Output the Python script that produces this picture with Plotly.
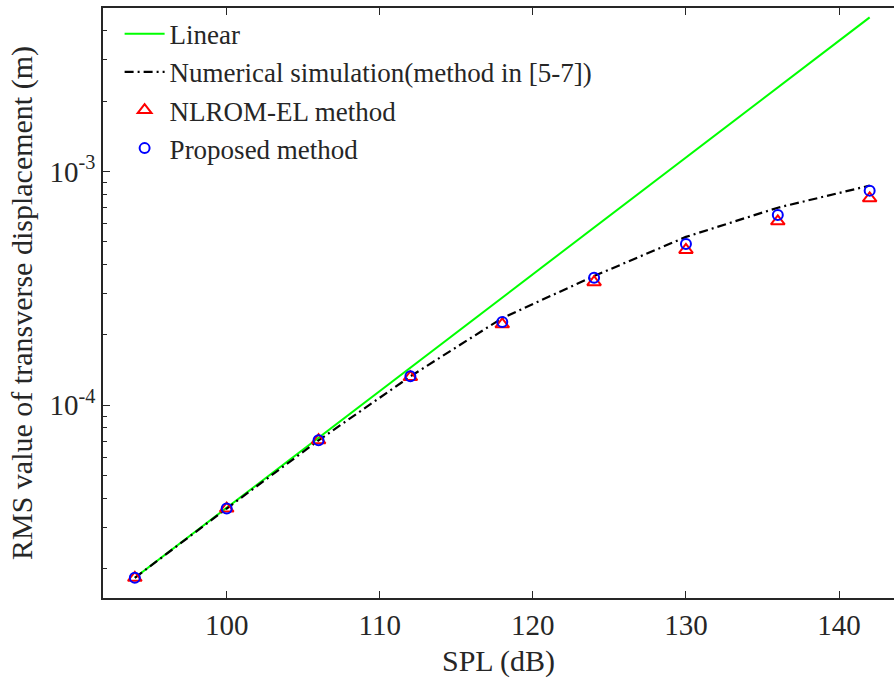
import plotly.graph_objects as go
import numpy as np

spl = [94, 100, 106, 112, 118, 124, 130, 136, 142]
linear = [1.83e-5, 3.65e-5, 7.29e-5, 1.455e-4, 2.90e-4, 5.79e-4, 1.155e-3, 2.30e-3, 4.56e-3]
numerical = [1.83e-5, 3.62e-5, 7.08e-5, 1.33e-4, 2.36e-4, 3.57e-4, 5.25e-4, 7.0e-4, 8.7e-4]
nlrom = [1.83e-5, 3.62e-5, 7.09e-5, 1.32e-4, 2.22e-4, 3.36e-4, 4.62e-4, 6.12e-4, 7.68e-4]
proposed = [1.83e-5, 3.62e-5, 7.09e-5, 1.33e-4, 2.27e-4, 3.51e-4, 4.90e-4, 6.52e-4, 8.28e-4]
ytick_vals = [1e-4, 1e-3]
ytick_text = ["10<sup>-4</sup>", "10<sup>-3</sup>"]

FONT = "Liberation Serif"
AX = "#262626"

def f(size):
    return dict(family=FONT, size=size, color=AX)

fig = go.Figure()
fig.add_trace(go.Scatter(x=spl, y=linear, mode="lines", name="Linear",
                         line=dict(color="#00ff00", width=2)))
fig.add_trace(go.Scatter(x=spl, y=numerical, mode="lines",
                         name="Numerical simulation(method in [5-7])",
                         line=dict(color="black", width=2.2, dash="9px,4px,2px,4px")))
fig.add_trace(go.Scatter(x=spl, y=nlrom, mode="markers", name="NLROM-EL method",
                         marker=dict(symbol="triangle-up-open", color="red", size=12,
                                     line=dict(width=2, color="red"))))
fig.add_trace(go.Scatter(x=spl, y=proposed, mode="markers", name="Proposed method",
                         marker=dict(symbol="circle-open", color="blue", size=10,
                                     line=dict(width=2, color="blue"))))

fig.update_layout(
    width=894, height=682,
    margin=dict(l=103, r=0, t=8, b=84, autoexpand=False),
    paper_bgcolor="white", plot_bgcolor="white",
    font=f(27),
    showlegend=True,
    legend=dict(x=0.021, y=0.997, xanchor="left", yanchor="top",
                bgcolor="rgba(0,0,0,0)", borderwidth=0,
                font=f(27), tracegroupgap=0, itemwidth=40),
    xaxis=dict(range=[91.92, 143.59], dtick=10, tick0=0, automargin=False,
               ticks="inside", ticklen=7, tickcolor=AX, tickwidth=1,
               showline=True, linecolor=AX, linewidth=1.5, mirror="allticks",
               showgrid=False, zeroline=False,
               title=dict(text="SPL (dB)", standoff=10, font=f(30)),
               tickfont=f(29)),
    yaxis=dict(type="log", range=[np.log10(1.5e-5), np.log10(5e-3)], automargin=False,
               tickvals=ytick_vals, ticktext=ytick_text,
               ticks="inside", ticklen=7, tickcolor=AX, tickwidth=1,
               minor=dict(ticks="inside", ticklen=4, dtick="D1", tickcolor=AX, showgrid=False),
               showline=True, linecolor=AX, linewidth=1.5,
               showgrid=False, zeroline=False,
               title=dict(text="RMS value of transverse displacement (m)", standoff=8,
                          font=f(30)),
               tickfont=f(29)),
)

fig.write_html("out.html")
